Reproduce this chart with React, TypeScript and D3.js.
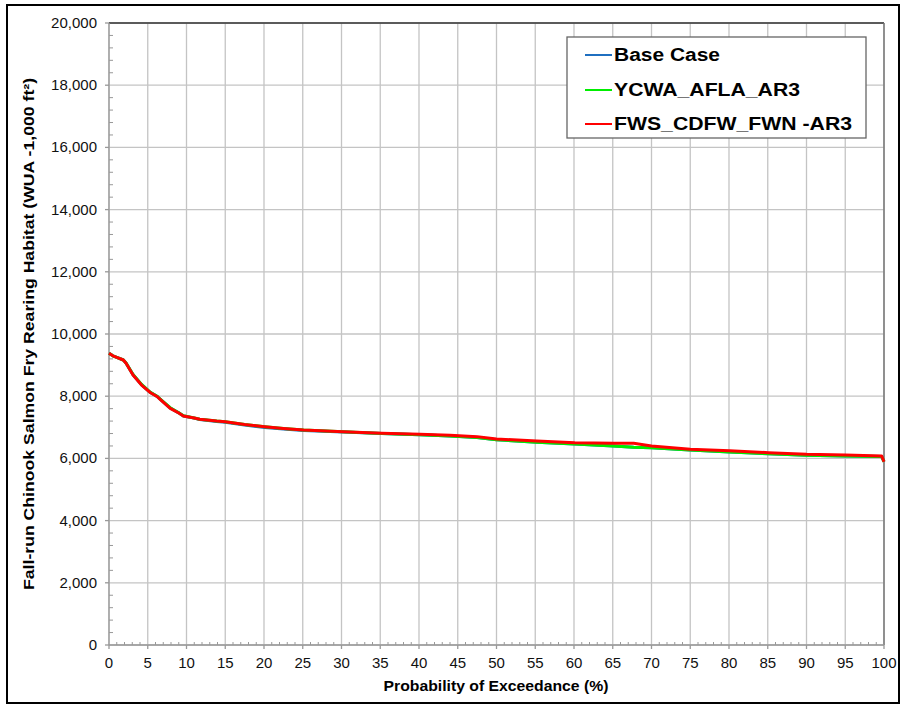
import React from "react";
import * as d3 from "d3";

const xTicks = d3.range(0, 101, 5);
const yTicks = d3.range(0, 20001, 2000);

const redX = [0, 0.5, 1, 1.85, 2.2, 3.1, 4.2, 5.3, 6.2, 6.6, 7.9, 9, 9.6, 11, 11.7, 13.9, 15, 17.5, 20.1, 22.5, 25.1, 30.2, 35.2, 40.1, 44, 47.5, 50, 55.2, 60.1, 65.1, 67.7, 70, 75, 80.1, 85.1, 90, 95, 99.7, 100];
const redY = [9380, 9300, 9250, 9164, 9060, 8682, 8360, 8120, 7990, 7900, 7610, 7460, 7363, 7300, 7257, 7200, 7180, 7090, 7020, 6965, 6913, 6860, 6806, 6774, 6742, 6700, 6624, 6559, 6505, 6485, 6485, 6399, 6292, 6248, 6184, 6130, 6110, 6077, 5894];

const greenX = [0, 0.5, 1, 1.85, 2.2, 3.1, 4.2, 5.3, 6.2, 6.6, 7.9, 9, 9.6, 11, 11.7, 13.9, 15, 17.5, 20.1, 22.5, 25.1, 30.2, 35.2, 40.1, 44, 47.5, 50, 55.2, 60.1, 65.1, 67.7, 70, 75, 80.1, 85.1, 90, 95, 99.7, 100];
const greenY = [9380, 9300, 9250, 9164, 9070, 8700, 8380, 8130, 8000, 7910, 7630, 7470, 7370, 7300, 7257, 7200, 7180, 7090, 7020, 6960, 6910, 6855, 6800, 6760, 6720, 6670, 6600, 6518, 6463, 6398, 6360, 6344, 6270, 6206, 6150, 6098, 6077, 6060, 5894];

const blueX = [0, 0.5, 1, 1.85, 2.2, 3.1, 4.2, 5.3, 6.2, 6.6, 7.9, 9, 9.6, 11, 11.7, 13.9, 15, 17.5, 20.1, 22.5, 25.1, 30.2, 35.2, 40.1, 44, 47.5, 50, 55.2, 60.1, 65.1, 67.7, 70, 75, 80.1, 85.1, 90, 95, 99.7, 100];
const blueY = [9380, 9300, 9250, 9164, 9065, 8690, 8370, 8125, 7995, 7905, 7620, 7465, 7365, 7295, 7250, 7190, 7165, 7070, 6995, 6945, 6900, 6850, 6798, 6760, 6722, 6672, 6602, 6520, 6465, 6400, 6362, 6346, 6272, 6208, 6152, 6100, 6078, 6062, 5894];

const seriesNames = ["Base Case", "YCWA_AFLA_AR3", "FWS_CDFW_FWN -AR3"];
const seriesColors = ["#1f6fc0", "#00ee00", "#ff0000"];

export default function App() {
  const W = 902, H = 706;
  const left = 109, right = 884, top = 23, bottom = 645;
  const x = d3.scaleLinear().domain([0, 100]).range([left, right]);
  const y = d3.scaleLinear().domain([0, 20000]).range([bottom, top]);
  const fmt = d3.format(",");
  const line = d3.line<[number, number]>().x(d => x(d[0])).y(d => y(d[1]));
  const series: [number[], number[]][] = [[blueX, blueY], [greenX, greenY], [redX, redY]];
  const xMinor = d3.range(0, 101, 1).filter(v => v % 5 !== 0);
  const yMinor = d3.range(0, 20001, 400).filter(v => v % 2000 !== 0);
  const font = "Arial, 'Liberation Sans', sans-serif";
  const legendY = [55, 90, 124];
  const legendLen = [106, 186, 238];

  return (
    <svg width={W} height={H} style={{ position: "absolute", left: 0, top: 0, background: "#fff" }} fontFamily={font}>
      <rect x={0} y={0} width={W} height={H} fill="#fff" />
      <rect x={7} y={5} width={892} height={698} fill="none" stroke="#000" strokeWidth={2} />
      {xTicks.map(t => (
        <line key={"gx" + t} x1={x(t)} x2={x(t)} y1={top} y2={bottom} stroke="#c4c4c4" strokeWidth={1.3} />
      ))}
      {yTicks.map(t => (
        <line key={"gy" + t} x1={left} x2={right} y1={y(t)} y2={y(t)} stroke="#c4c4c4" strokeWidth={1.3} />
      ))}
      <line x1={left} x2={right} y1={top} y2={top} stroke="#333" strokeWidth={1.3} />
      <line x1={right} x2={right} y1={top} y2={bottom} stroke="#777" strokeWidth={1.5} />
      <line x1={left} x2={left} y1={top} y2={bottom} stroke="#999" strokeWidth={1.3} />
      <line x1={left} x2={right} y1={bottom} y2={bottom} stroke="#999" strokeWidth={1.3} />
      {xMinor.map(t => (
        <line key={"mx" + t} x1={x(t)} x2={x(t)} y1={bottom} y2={bottom - 3} stroke="#999" strokeWidth={1} />
      ))}
      {yMinor.map(t => (
        <line key={"my" + t} x1={left} x2={left + 4} y1={y(t)} y2={y(t)} stroke="#999" strokeWidth={1} />
      ))}
      {xTicks.map(t => (
        <line key={"tx" + t} x1={x(t)} x2={x(t)} y1={bottom} y2={bottom + 4} stroke="#999" strokeWidth={1.3} />
      ))}
      {yTicks.map(t => (
        <line key={"ty" + t} x1={left - 4} x2={left} y1={y(t)} y2={y(t)} stroke="#999" strokeWidth={1.3} />
      ))}
      {yTicks.map(t => (
        <text key={"ly" + t} x={97} y={y(t) + 5} textAnchor="end" fontSize={15} fill="#111">{fmt(t)}</text>
      ))}
      {xTicks.map(t => (
        <text key={"lx" + t} x={x(t)} y={668} textAnchor="middle" fontSize={15} fill="#111">{t}</text>
      ))}
      {series.map(([xs, ys], i) => (
        <path key={"s" + i} d={line(xs.map((v, j) => [v, ys[j]] as [number, number])) || ""} fill="none"
          stroke={seriesColors[i]} strokeWidth={3} strokeLinejoin="round" />
      ))}
      <text x={496} y={691} textAnchor="middle" fontSize={14} fontWeight="bold" fill="#000"
        textLength={225} lengthAdjust="spacingAndGlyphs">Probability of Exceedance (%)</text>
      <text transform={`translate(34,${(top + bottom) / 2}) rotate(-90)`} textAnchor="middle" fontSize={14} fontWeight="bold" fill="#000"
        textLength={512} lengthAdjust="spacingAndGlyphs">
        Fall-run Chinook Salmon Fry Rearing Habitat (WUA -1,000 ft²)
      </text>
      <rect x={567} y={37} width={299} height={101} fill="#fff" stroke="#666" strokeWidth={1.3} />
      {seriesNames.map((n, i) => (
        <g key={"lg" + i}>
          <line x1={585} x2={612} y1={legendY[i]} y2={legendY[i]} stroke={seriesColors[i]} strokeWidth={2} />
          <text x={614} y={legendY[i] + 6} fontSize={18} fontWeight="bold" fill="#000"
            textLength={legendLen[i]} lengthAdjust="spacingAndGlyphs">{n}</text>
        </g>
      ))}
    </svg>
  );
}
